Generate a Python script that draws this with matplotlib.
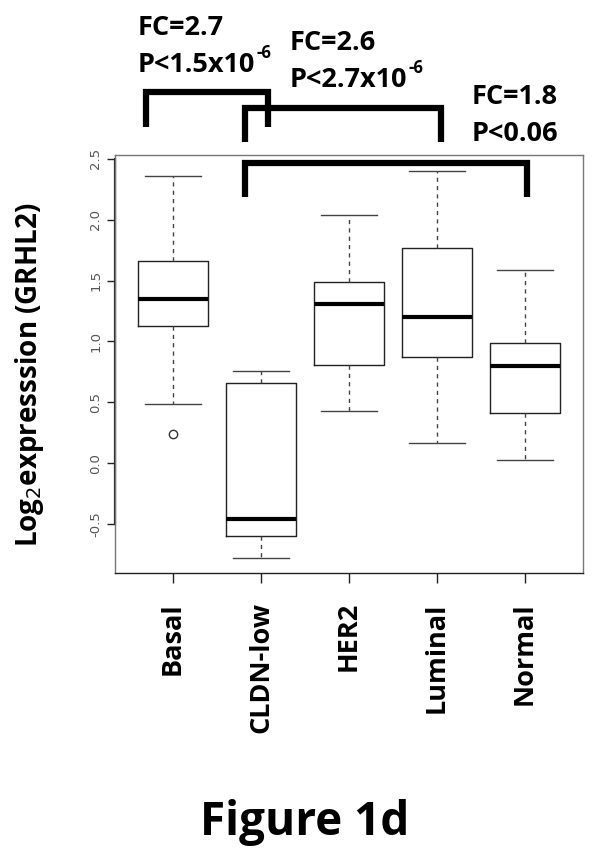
import matplotlib

matplotlib.use("Agg")
import matplotlib.pyplot as plt  # noqa: E402
from matplotlib.lines import Line2D  # noqa: E402

# box statistics
groups = ["Basal", "CLDN-low", "HER2", "Luminal", "Normal"]
whisk_hi = [2.36, 0.76, 2.04, 2.40, 1.59]
q3 = [1.66, 0.66, 1.49, 1.77, 0.99]
median = [1.35, -0.46, 1.31, 1.20, 0.80]
q1 = [1.13, -0.60, 0.81, 0.87, 0.41]
whisk_lo = [0.49, -0.78, 0.43, 0.17, 0.03]
outliers = [[0.24], [], [], [], []]

yticks = [-0.5, 0.0, 0.5, 1.0, 1.5, 2.0, 2.5]

# comparison brackets: (left group, right group, fold change, p-value base, exponent)
brackets = [(1, 2, "FC=2.7", "P<1.5x10", "-6"),
            (2, 4, "FC=2.6", "P<2.7x10", "-6"),
            (2, 5, "FC=1.8", "P<0.06", "")]

FONT = ["Open Sans", "DejaVu Sans"]

fig = plt.figure(figsize=(6.01, 8.55), dpi=100)
W, H = 601, 855
ax = fig.add_axes([115 / W, 1 - 573 / H, (583 - 115) / W, (573 - 155) / H])

stats = []
for i, g in enumerate(groups):
    stats.append({"label": g, "whishi": whisk_hi[i], "q3": q3[i], "med": median[i],
                  "q1": q1[i], "whislo": whisk_lo[i], "fliers": outliers[i]})

ax.bxp(stats, positions=range(1, 6), widths=0.8, capwidths=0.63, showfliers=True,
       boxprops=dict(color="#222", lw=1.0),
       medianprops=dict(color="black", lw=3),
       whiskerprops=dict(color="#444", lw=1.0, ls=(0, (3, 3))),
       capprops=dict(color="#444", lw=1.0),
       flierprops=dict(marker="o", mfc="none", mec="#333", ms=6, mew=1.0))

ax.set_xlim(0.34, 5.66)
ax.set_ylim(-0.90, 2.53)
for s in ax.spines.values():
    s.set_color("#777")
    s.set_linewidth(1.0)
ax.spines["bottom"].set_color("#222")

ax.set_yticks(yticks)
ax.set_yticklabels([f"{v:.1f}" for v in yticks], rotation=90, va="center",
                   fontsize=9.5, color="#555")
ax.tick_params(axis="y", length=6, width=1, color="#222", pad=3)
ax.set_xticks(range(1, 6))
ax.set_xticklabels(groups, rotation=90, va="top", fontsize=19.5, fontweight="bold",
                   family=FONT)
ax.tick_params(axis="x", length=7, width=1, color="#222", pad=14)
# R style axis line over the tick range
ax.plot([0.34, 0.34], [-0.5, 2.5], color="#222", lw=1.6, clip_on=False)

ax.set_ylabel("Log$_2$expresssion (GRHL2)", fontsize=20, fontweight="bold",
              family=FONT)
ax.yaxis.set_label_coords((46 - 115) / (583 - 115), (573 - 375) / (573 - 155))


# brackets drawn in figure pixel space, anchored on group positions
def xpix(pos):
    return ax.transData.transform((pos, 0))[0]


renderer = fig.canvas.get_renderer()
bracket_geom = [(92, 127), (108, 142), (163, 197)]
xoff = [(-27, 7), (-16, 4), (-16, 2)]
text_pos = [(138, 28, 65), (290, 43, 80), (472, 97, 134)]
for (a, b, fc, p, ex), (ytop, ybot), (da, db), (tx, t1, t2) in zip(brackets, bracket_geom, xoff, text_pos):
    xa = (xpix(a) + da) / W
    xb = (xpix(b) + db) / W
    fig.add_artist(Line2D([xa, xa, xb, xb], [1 - ybot / H, 1 - ytop / H, 1 - ytop / H, 1 - ybot / H],
                          color="black", lw=4.5, solid_joinstyle="miter", solid_capstyle="butt"))
    fig.text(tx / W, 1 - t1 / H, fc, fontsize=19.5, fontweight="bold", family=FONT, va="center")
    t = fig.text(tx / W, 1 - t2 / H, p, fontsize=19.5, fontweight="bold", family=FONT, va="center")
    if ex:
        bb = t.get_window_extent(renderer)
        fig.text((bb.x1 + 1) / W, 1 - (t2 - 12) / H, ex, fontsize=12, fontweight="bold",
                 family=FONT, va="center")

fig.text(305 / W, 1 - 822 / H, "Figure 1d", fontsize=33, fontweight="bold", family=FONT,
         ha="center", va="center")

fig.savefig("out.png", dpi=100)
